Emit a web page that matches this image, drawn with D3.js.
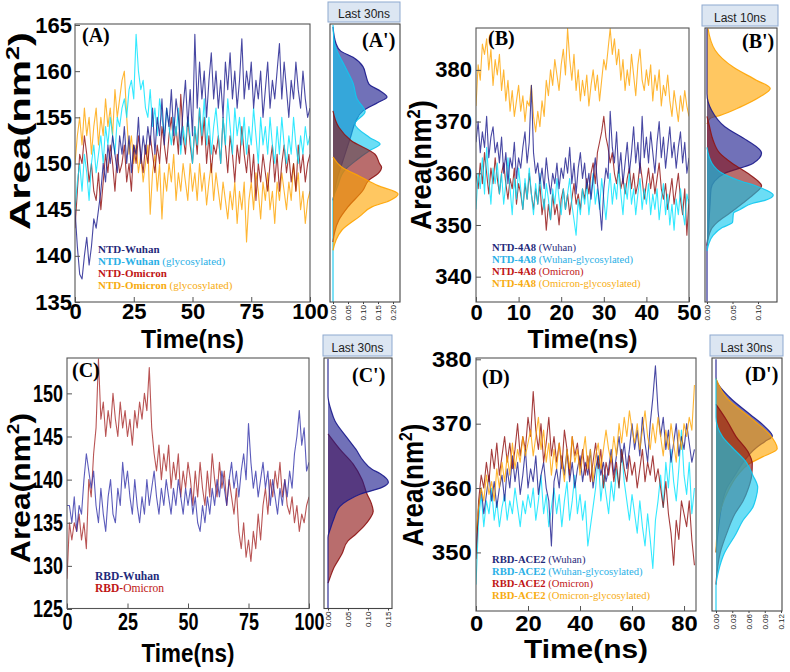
<!DOCTYPE html>
<html><head><meta charset="utf-8">
<script src="https://cdn.jsdelivr.net/npm/d3@7"></script>
<style>body{margin:0;background:#fff}svg{display:block}</style>
</head><body>
<svg id="c" width="790" height="672"></svg>
<script>
// ---------------- DATA ----------------
// Panel A: NTD, time 0..100 ns, step 1 ns
const stepA = 1;
const A_wuhan = [145,141,138,137.5,140,142,139,141,144,143,145,
 147,150,148,152,150,153,151,149,153,151,
 154,150,153,149,152,151,155,150,153,151,
 154,152,156,151,155,153,157,152,156,154,
 158,153,157,155,152,156,159,154,158,153,
 164,156,161,157,160,155,159,162,157,160,
 156,159,155,161,158,162,157,160,156,159,
 163.5,157,160,158,161,156,159,157,160,155,
 158,161,156,159,157,160,163,157,161,158,
 155,159,157,161,158,156,160,157,155,156];
const A_wuhanGly = [145,148,150,147,151,149,146,150,152,149,151,
 153,150,154,152,155,153,151,155,154,156,
 157,155,158,159,157,164,160,158,159,156,
 155,158,154,156,153,157,155,153,156,154,
 152,155,153,156,151,154,152,155,153,150,
 154,152,156,153,157,152,155,151,154,156,
 153,150,155,152,157,154,151,156,153,155,
 152,155,151,154,152,156,153,150,155,152,
 154,151,155,152,150,154,151,155,152,150,
 153,151,155,152,150,153,151,154,152,153];
const A_omicron = [143,147,151,150,153,151,148,150,147,146,149,
 145,148,151,149,152,150,147,151,149,150,
 152,148,150,147,152,150,153,151,149,152,
 150,153,151,149,152,150,154,152,150,153,
 155,152,154,151,157.5,153,151,155,152,150,
 154,151,156,152,155,150,153,149,152,151,
 153,150,155,152,149,153,151,148,152,150,
 154,151,149,152,148,151,146,150,148,151,
 149,147,150,152,148,151,147,150,152,149,
 151,148,150,147,152,149,151,148,150,151];
const A_omicronGly = [150,153,155,152,156,153,155,151,154,156,152,
 155,153,157,154,156,153,158,155,157,159,
 160,155,151,153,150,152,149,151,148,150,
 152,144.5,149,151,147,150,144,149,147,150,
 148,151,146,149,147,150,148,146,150,147,
 149,146,150,147,149,145.5,148,150,146,149,
 147,145,148,146,144,147,145,148,143.5,147,
 145,148,141.5,146,148,145,149,147,144,148,
 146,149,145,147,143.5,148,146,149,147,145,
 148,146,150,147,149,145,147,143.5,146,147];

// Panel B: NTD-4A8, time 0..50 ns, step 0.5 ns
const stepB = 0.5;
const B_wuhan = [366,370,364,368,365,371,363,367,369,364,366,
 362,367,360,364,358,363,361,366,359,363,
 361,365,368,362,366,377,364,360,362,358,
 361,357,363,359,356,360,358,362,357,361,
 359,363,360,365,358,362,356,361,364,359,
 362,357,360,355,359,363,358,354,349,357,
 361,359,372,365,362,368,360,364,358,362,
 366,360,364,369,362,366,360,371,363,367,
 362,368,364,360,366,370,363,367,361,365,
 369,363,366,361,365,368,362,366,360,363];
const B_wuhanGly = [353,360,357,363,356,365,359,354,361,358,362,
 356,360,354,358,363,357,352,359,355,361,
 357,353,359,355,361,356,352,358,354,360,
 356,353,358,355,351,357,354,359,355,352,
 357,353,356,359,354,351,348,355,352,357,
 354,358,352,356,360,354,357,353,359,355,
 351,356,360,354,358,355,361,356,352,358,
 355,360,354,357,352,356,359,353,357,354,
 358,352,356,353,357,351,355,358,352,356,
 350,354,349,355,352,357,353,350,356,354];
const B_omicron = [360,357,362,358,364,360,356,361,358,363,359,
 356,360,362,358,355,359,357,361,354,358,
 356,353,358,355,360,356,353,357,354,358,
 352,355,349,354,351,356,352,354,350,355,
 357,353,356,352,355,358,354,356,353,357,
 355,359,356,360,362,358,364,366,368,371,
 367,365,362,364,360,358,361,357,359,356,
 359,361,357,360,356,358,362,359,355,358,
 361,357,360,356,359,362,357,355,358,353,
 356,359,354,357,360,355,352,357,348,355];
const B_omicronGly = [373,381,378,385,383,386,380,384,377,382,379,
 383,376,380,374,378,372,376,371,374,377,
 372,375,370,374,373,377,371,368,372,369,
 374,371,378,375,380,377,382,379,376,381,
 384,379,388,382,378,383,376,380,374,378,
 375,379,373,377,380,376,379,374,378,382,
 380,384,388,383,386,381,384,378,382,376,
 380,377,383,379,375,381,384,378,376,380,
 377,381,374,379,376,380,373,377,375,379,
 374,371,376,373,370,375,372,376,373,371];

// Panel C: RBD, time 0..100 ns, step 1 ns
const stepC = 1;
const C_wuhan = [137,137,135,138,134,137,136,140,143,141,139,
 141,137,135,139,136,134,138,140,136,135,
 139,137,142,139,141,138,136,140,137,135,
 138,136,140,137,139,141,138,136,139,137,
 140,138,136,139,137,140,138,136,139,137,
 139,136,138,135,134,137,135,138,136,139,
 137,140,138,141,139,137,140,142,139,141,
 138,141,143,140,146.5,142,139,141,138,140,
 142,139,141,137,140,138,136,139,137,140,
 138,141,139,143,145,148,144,146,141,142];
const C_omicron = [128.5,135,133,135,134,136,133,135,132,140,138,
 143,146,154,147,149,145,148,146,150,147,
 145,149,146,148,145,147,144,148,146,149,
 147,150,148,153,146,143,141,144,140,143,
 141,144,139,142,140,143,138,141,139,142,
 140,137,141,138,142,139,137,141,138,143,
 140,138,142,139,141,137,140,138,136,139,
 134,132,135,131,133,130.5,134,132,136,133,
 137,139,136,140,138,141,139,142,138,140,
 137,136,138,135,137,134,136,135,137,138];

// Panel D: RBD-ACE2, time 0..84 ns, step 1 ns
const stepD = 1;
const D_wuhan = [350,357,360,356,359,362,358,361,357,360,362,
 358,363,360,365,361,364,359,362,366,360,
 363,361,365,359,362,364,360,358,351,361,
 363,360,365,362,366,361,364,360,363,365,
 361,364,362,366,360,363,365,362,364,361,
 363,366,362,365,368,364,367,363,366,370,
 366,369,365,371,367,364,370,374,379,372,
 368,371,366,369,364,367,370,365,368,366,
 370,367,364,366];
const D_wuhanGly = [345,355,359,354,358,356,360,355,358,354,357,
 359,355,358,356,360,357,354,358,356,359,
 357,360,355,358,362,356,359,354,357,360,
 356,359,354,358,361,355,358,362,356,359,
 355,358,351,354,357,360,365,358,362,359,
 356,361,358,363,360,366,361,358,355,359,
 356,353,358,354,351,356,352,347.5,355,358,
 362,357,364,360,366,361,358,363,369,362,
 359,364,356,360];
const D_omicron = [349,358,362,360,364,361,366,363,367,362,365,
 368,364,367,363,366,370,365,368,366,371,
 368,375,369,366,370,364,367,371,365,368,
 364,367,363,369,366,362,368,365,367,363,
 366,362,365,361,364,367,363,366,360,364,
 362,365,361,364,360,366,363,361,365,362,
 364,360,363,366,361,364,362,365,361,363,
 360,357,361,356,353,348,355,352,358,356,
 354,358,352,348];
const D_omicronGly = [353,357,360,358,362,359,361,358,363,360,364,
 361,365,362,367,363,366,364,368,365,367,
 369,365,368,371,366,369,364,367,362,366,
 363,367,364,361,366,363,368,364,366,362,
 365,368,363,366,361,365,367,363,366,369,
 366,364,368,365,370,367,371,368,372,369,
 367,370,366,369,372,368,366,370,367,371,
 368,365,369,366,370,367,364,369,366,370,
 368,371,369,376];

// Density (last part of trajectory): area value levels and probability density
const dA_wuhan_v = [164.8,163,162.2,161.5,160.5,159.5,158.6,157.8,157.2,156.6,155.7,154.5,153,151.5,150,148.5,147,146];
const dA_wuhan_d = [0,0.01,0.025,0.067,0.10,0.11,0.12,0.16,0.18,0.15,0.10,0.075,0.06,0.045,0.03,0.015,0.005,0];
const dA_wuhanGly_v = [165,163,160.5,158.6,157,155.6,154.3,152.8,152.1,151.4,150.4,149.3,147.5,146,135];
const dA_wuhanGly_d = [0,0.005,0.04,0.068,0.08,0.107,0.073,0.123,0.157,0.123,0.08,0.04,0.015,0,0];
const dA_omicron_v = [155.7,153.9,152.5,151,150,149.6,148.9,148.2,147.1,145.3,143.9,142.5,141.5];
const dA_omicron_d = [0,0.02,0.06,0.14,0.155,0.162,0.15,0.12,0.10,0.05,0.02,0.005,0];
const dA_omicronGly_v = [150.7,149.6,148.6,147.6,146.7,146,145.3,144.3,142.8,141.7,140.6];
const dA_omicronGly_d = [0,0.03,0.09,0.15,0.217,0.19,0.13,0.09,0.03,0.01,0];

const dB_wuhan_v = [388,375.4,372.2,369,366.4,363.9,361.9,360,358.5,357,354,351,348,346,335.2];
const dB_wuhan_d = [0,0,0.009,0.035,0.078,0.107,0.09,0.035,0.015,0.008,0.006,0.004,0.002,0,0];
const dB_wuhanGly_v = [365,361.9,360,358.7,357.4,355.8,354.8,354.2,353,352.3,350.5,349.5,348,346.5,345];
const dB_wuhanGly_d = [0,0.01,0.03,0.06,0.10,0.13,0.115,0.09,0.065,0.052,0.05,0.03,0.012,0.004,0];
const dB_omicron_v = [371,369,366.4,363.9,361.9,360,358.5,357.6,355.8,354.2,352.3,350.5,349.1,346];
const dB_omicron_d = [0,0.005,0.012,0.025,0.05,0.08,0.10,0.107,0.09,0.07,0.045,0.02,0.008,0];
const dB_omicronGly_v = [388,383.8,380.5,378,376.4,374.8,372.8,371.2,370.6,369.5];
const dB_omicronGly_d = [0.002,0.016,0.052,0.097,0.124,0.104,0.065,0.026,0.006,0];

const dC_wuhan_v = [154,149.7,148,146.8,144.9,143.5,142.2,141.2,140.7,139.7,139.1,138.3,137.6,136.9,135.5,134.3,133.3,125];
const dC_wuhan_d = [0,0,0.008,0.0175,0.047,0.07,0.088,0.11,0.13,0.151,0.135,0.08,0.05,0.03,0.015,0.006,0,0];
const dC_omicron_v = [145.3,143.5,141.8,140,138.4,137.3,136.3,135.5,134.6,133.7,132.9,131.4,129.8,128.5,128];
const dC_omicron_d = [0,0.03,0.063,0.085,0.097,0.108,0.113,0.105,0.09,0.07,0.05,0.035,0.015,0.004,0];

const dD_wuhan_v = [380,377.2,374.1,371.5,369.4,368.1,367.2,366.3,364,362,360,357,354,350];
const dD_wuhan_d = [0,0,0.025,0.062,0.092,0.104,0.09,0.075,0.05,0.035,0.02,0.01,0.005,0];
const dD_wuhanGly_v = [377,371,368,366.3,364,362,360.1,358.5,357,355,352.9,349.8,347.2,344.7,340.9];
const dD_wuhanGly_d = [0,0,0.012,0.03,0.056,0.068,0.077,0.074,0.068,0.05,0.037,0.015,0.005,0,0];
const dD_omicron_v = [373,370.5,368,365.5,363.8,362,360,358,356,353,350,347,345];
const dD_omicron_d = [0,0.02,0.037,0.06,0.067,0.066,0.06,0.05,0.035,0.02,0.008,0.002,0];
const dD_omicronGly_v = [377,374,370.5,368.4,366.1,364.8,363.8,362,360,357,354,350];
const dD_omicronGly_d = [0,0.02,0.07,0.098,0.113,0.085,0.062,0.04,0.025,0.01,0.003,0];

// Tick labels
const xTicksA = [0,25,50,75,100], yTicksA = [135,140,145,150,155,160,165];
const xTicksB = [0,10,20,30,40,50], yTicksB = [340,350,360,370,380];
const xTicksC = [0,25,50,75,100], yTicksC = [125,130,135,140,145,150];
const xTicksD = [0,20,40,60,80], yTicksD = [350,360,370,380];
const dTicksA = [0,0.05,0.10,0.15,0.20], dTicksB = [0,0.05,0.10];
const dTicksC = [0,0.05,0.10,0.15], dTicksD = [0,0.03,0.06,0.09,0.12];

// Legend / header texts
const legendA = [["NTD-Wuhan",""],["NTD-Wuhan"," (glycosylated)"],["NTD-Omicron",""],["NTD-Omicron"," (glycosylated)"]];
const legendB = [["NTD-4A8"," (Wuhan)"],["NTD-4A8"," (Wuhan-glycosylated)"],["NTD-4A8"," (Omicron)"],["NTD-4A8"," (Omicron-glycosylated)"]];
const legendC = [["RBD-Wuhan",""],["RBD-","Omicron"]];
const legendD = [["RBD-ACE2"," (Wuhan)"],["RBD-ACE2"," (Wuhan-glycosylated)"],["RBD-ACE2"," (Omicron)"],["RBD-ACE2"," (Omicron-glycosylated)"]];
const headers = ["Last 30ns","Last 10ns","Last 30ns","Last 30ns"];

// ---------------- DRAW ----------------
const svg = d3.select('#c');
const SANS = 'Liberation Sans, Arial, sans-serif';
const SERIF = 'Liberation Serif, Times New Roman, serif';
const COL = {navy:'#1a1a8c', cyan:'#00e3ff', red:'#8e0b0b', orange:'#ffa400',
  blueC:'#3333aa', redC:'#a82a2a'};
const LEG = {navy:'#1f2a7a', sky:'#2ab0e6', red:'#c01515', orange:'#f7ac10'};
const DFILL = {navy:'#1a1a8c', cyan:'#10c8ef', red:'#8e1414', orange:'#ffa400'};

const panels = [
 {key:'A', frame:[75,24,310,302], xDom:[0,100], yDom:[135,165], yR:[302,25],
  step:stepA, xTicks:xTicksA, yTicks:yTicksA,
  lines:[[A_omicronGly,COL.orange],[A_omicron,COL.red],[A_wuhanGly,COL.cyan],[A_wuhan,COL.navy]],
  tickFs:22, tsx:1, tsy:1, xPad:1.5, yPad:3,
  dFrame:[330,24,400,302], dR:[333,393], dMax:0.2, dTicks:dTicksA,
  dens:[[dA_wuhan_v,dA_wuhan_d,DFILL.navy],[dA_wuhanGly_v,dA_wuhanGly_d,DFILL.cyan],[dA_omicron_v,dA_omicron_d,DFILL.red],[dA_omicronGly_v,dA_omicronGly_d,DFILL.orange]],
  hdr:[328,2,400,22], hdrText:headers[0],
  lab:[82,42], dlab:[362,47],
  legend:legendA, legCols:[LEG.navy,LEG.sky,LEG.red,LEG.orange], legX:98, legY:[253,265,277,289], legFs:11,
  aLen:198, aFs:30, aCy:131, aBx:30, tLen:103, tCx:192.5, tBy:348},
 {key:'B', frame:[476,28,689,302], xDom:[0,50], yDom:[335.1,388.1], yR:[302,28],
  step:stepB, xTicks:xTicksB, yTicks:yTicksB,
  lines:[[B_omicronGly,COL.orange],[B_omicron,COL.red],[B_wuhanGly,COL.cyan],[B_wuhan,COL.navy]],
  tickFs:22, tsx:1, tsy:1, xPad:2, yPad:4,
  dFrame:[705,28,777,302], dR:[707,758], dMax:0.1, dTicks:dTicksB,
  dens:[[dB_omicronGly_v,dB_omicronGly_d,DFILL.orange],[dB_wuhan_v,dB_wuhan_d,DFILL.navy],[dB_omicron_v,dB_omicron_d,DFILL.red],[dB_wuhanGly_v,dB_wuhanGly_d,DFILL.cyan]],
  hdr:[702,5,778,26], hdrText:headers[1],
  lab:[488,45], dlab:[742,48],
  legend:legendB, legCols:[LEG.navy,LEG.sky,LEG.red,LEG.orange], legX:492, legY:[251,263,275,287], legFs:10.6,
  aLen:130, aFs:30, aCy:165, aBx:431, tLen:110, tCx:582.5, tBy:348},
 {key:'C', frame:[67,358,309,608.5], xDom:[0,100], yDom:[125,154.1], yR:[609,358],
  step:stepC, xTicks:xTicksC, yTicks:yTicksC,
  lines:[[C_omicron,COL.redC],[C_wuhan,COL.blueC]],
  tickFs:18, tsx:1, tsy:1.33, xPad:3.5, yPad:4,
  dFrame:[324,358,392,608.5], dR:[328,388], dMax:0.15, dTicks:dTicksC,
  dens:[[dC_omicron_v,dC_omicron_d,DFILL.red],[dC_wuhan_v,dC_wuhan_d,DFILL.navy]],
  hdr:[323,335,392,356], hdrText:headers[2],
  lab:[72,377], dlab:[352,382],
  legend:legendC, legCols:[LEG.navy,LEG.red], legX:95, legY:[580,592], legFs:11.5,
  aLen:150, aFs:28, aCy:488, aBx:30, tLen:93, tCx:188, tBy:662},
 {key:'D', frame:[476,358,696,611], xDom:[0,84.6], yDom:[340.9,380], yR:[611,359.3],
  step:stepD, xTicks:xTicksD, yTicks:yTicksD,
  lines:[[D_wuhanGly,COL.cyan],[D_wuhan,COL.navy],[D_omicron,COL.red],[D_omicronGly,COL.orange]],
  tickFs:22, tsx:1.08, tsy:1, xPad:4, yPad:4,
  dFrame:[712,358,782,611], dR:[716,781], dMax:0.12, dTicks:dTicksD,
  dens:[[dD_wuhan_v,dD_wuhan_d,DFILL.navy],[dD_omicronGly_v,dD_omicronGly_d,DFILL.orange],[dD_omicron_v,dD_omicron_d,DFILL.red],[dD_wuhanGly_v,dD_wuhanGly_d,DFILL.cyan]],
  hdr:[710,335,783,356], hdrText:headers[3],
  lab:[482,384], dlab:[745,381],
  legend:legendD, legCols:[LEG.navy,LEG.sky,LEG.red,LEG.orange], legX:492, legY:[563,575,587,599], legFs:10.6,
  aLen:123, aFs:30, aCy:485, aBx:423, tLen:124, tCx:586, tBy:658}
];

const defs = svg.append('defs');

panels.forEach(p => {
  const [fx0,fy0,fx1,fy1] = p.frame;
  const x = d3.scaleLinear().domain(p.xDom).range([fx0,fx1]);
  const y = d3.scaleLinear().domain(p.yDom).range(p.yR);
  const g = svg.append('g');

  defs.append('clipPath').attr('id','clip'+p.key).append('rect')
    .attr('x',fx0).attr('y',fy0).attr('width',fx1-fx0).attr('height',fy1-fy0);

  // time series
  const lg = g.append('g').attr('clip-path',`url(#clip${p.key})`);
  const line = d3.line().x((d,i)=>x(i*p.step)).y(d=>y(d));
  p.lines.forEach(([arr,col]) => {
    lg.append('path').datum(arr).attr('d',line).attr('fill','none')
      .attr('stroke',col).attr('stroke-width',1.1).attr('stroke-opacity',0.8)
      .attr('stroke-linejoin','round');
  });

  // axes
  const yAx = d3.axisLeft(y).tickValues(p.yTicks).tickSizeInner(-5).tickSizeOuter(0).tickPadding(p.yPad);
  const xAx = d3.axisBottom(x).tickValues(p.xTicks).tickSizeInner(-5).tickSizeOuter(0).tickPadding(p.xPad);
  const ya = g.append('g').attr('transform',`translate(${fx0},0)`).call(yAx);
  const xa = g.append('g').attr('transform',`translate(0,${fy1})`).call(xAx);
  [ya,xa].forEach(a => {
    a.select('.domain').remove();
    a.selectAll('line').attr('stroke','#555');
    a.selectAll('text').attr('font-size',p.tickFs).attr('font-weight','bold')
      .attr('font-family',SANS).attr('fill','#000')
      .attr('transform',`scale(${p.tsx},${p.tsy})`);
  });

  g.append('rect').attr('x',fx0).attr('y',fy0).attr('width',fx1-fx0).attr('height',fy1-fy0)
    .attr('fill','none').attr('stroke','#555').attr('stroke-width',1.1);

  // panel label
  g.append('text').attr('x',p.lab[0]).attr('y',p.lab[1]).attr('font-family',SERIF)
    .attr('font-weight','bold').attr('font-size',20).text(`(${p.key})`);

  // legend
  p.legend.forEach((it,i) => {
    const t = g.append('text').attr('x',p.legX).attr('y',p.legY[i]).attr('font-family',SERIF)
      .attr('font-size',p.legFs).attr('fill',p.legCols[i]);
    t.append('tspan').attr('font-weight','bold').text(it[0]);
    if (it[1]) t.append('tspan').text(it[1]);
  });

  // y axis title
  const ag = g.append('g').attr('transform',`translate(${p.aBx},${p.aCy}) rotate(-90)`);
  const at = ag.append('text').attr('text-anchor','middle').attr('font-family',SANS)
    .attr('font-weight','bold').attr('font-size',p.aFs).attr('fill','#000');
  at.append('tspan').text('Area(nm');
  at.append('tspan').attr('font-size',p.aFs*0.6).attr('dy',-p.aFs*0.38).text('2');
  at.append('tspan').attr('dy',p.aFs*0.38).text(')');
  const aL = at.node().getComputedTextLength();
  at.attr('transform',`scale(${p.aLen/aL},1)`);

  // x axis title
  const tg = g.append('g').attr('transform',`translate(${p.tCx},${p.tBy})`);
  const tt = tg.append('text').attr('text-anchor','middle').attr('font-family',SANS)
    .attr('font-weight','bold').attr('font-size',26).attr('fill','#000').text('Time(ns)');
  const tL = tt.node().getComputedTextLength();
  tt.attr('transform',`scale(${p.tLen/tL},1)`);

  // ---- density panel ----
  const [dx0,dy0,dx1,dy1] = p.dFrame;
  const dx = d3.scaleLinear().domain([0,p.dMax]).range(p.dR);
  defs.append('clipPath').attr('id','dclip'+p.key).append('rect')
    .attr('x',dx0).attr('y',dy0).attr('width',dx1-dx0).attr('height',dy1-dy0);
  const dg = g.append('g').attr('clip-path',`url(#dclip${p.key})`);
  p.dens.forEach(([vs,ds,col]) => {
    const pts = vs.map((v,i)=>({v, d:ds[i]}));
    const area = d3.area().y(d=>y(d.v)).x0(dx(0)).x1(d=>dx(d.d)).curve(d3.curveMonotoneY);
    const ln = d3.line().y(d=>y(d.v)).x(d=>dx(d.d)).curve(d3.curveMonotoneY);
    dg.append('path').datum(pts).attr('d',area).attr('fill',col).attr('fill-opacity',0.62).attr('stroke','none');
    dg.append('path').datum(pts).attr('d',ln).attr('fill','none').attr('stroke',col).attr('stroke-width',1.2).attr('stroke-opacity',0.9);
  });
  g.append('rect').attr('x',dx0).attr('y',dy0).attr('width',dx1-dx0).attr('height',dy1-dy0)
    .attr('fill','none').attr('stroke','#444').attr('stroke-width',1.1);
  const dAx = d3.axisBottom(dx).tickValues(p.dTicks).tickFormat(d3.format('.2f')).tickSize(2).tickPadding(0);
  const da = g.append('g').attr('transform',`translate(0,${dy1})`).call(dAx);
  da.select('.domain').remove();
  da.selectAll('line').attr('stroke','#444');
  da.selectAll('text').attr('font-size',8).attr('font-family',SANS).attr('fill','#222')
    .attr('text-anchor','end').attr('transform','rotate(-90)')
    .attr('x',-3).attr('y',0).attr('dy','0.35em');

  g.append('text').attr('x',p.dlab[0]).attr('y',p.dlab[1]).attr('font-family',SERIF)
    .attr('font-weight','bold').attr('font-size',20).text(`(${p.key}')`);

  // header box
  const [hx0,hy0,hx1,hy1] = p.hdr;
  g.append('rect').attr('x',hx0).attr('y',hy0).attr('width',hx1-hx0).attr('height',hy1-hy0)
    .attr('fill','#dce6f2').attr('stroke','#8ea9d0').attr('stroke-width',1);
  g.append('text').attr('x',(hx0+hx1)/2).attr('y',hy1-4.5).attr('text-anchor','middle')
    .attr('font-family',SANS).attr('font-size',12).attr('fill','#222').text(p.hdrText);
});
</script>
</body></html>
